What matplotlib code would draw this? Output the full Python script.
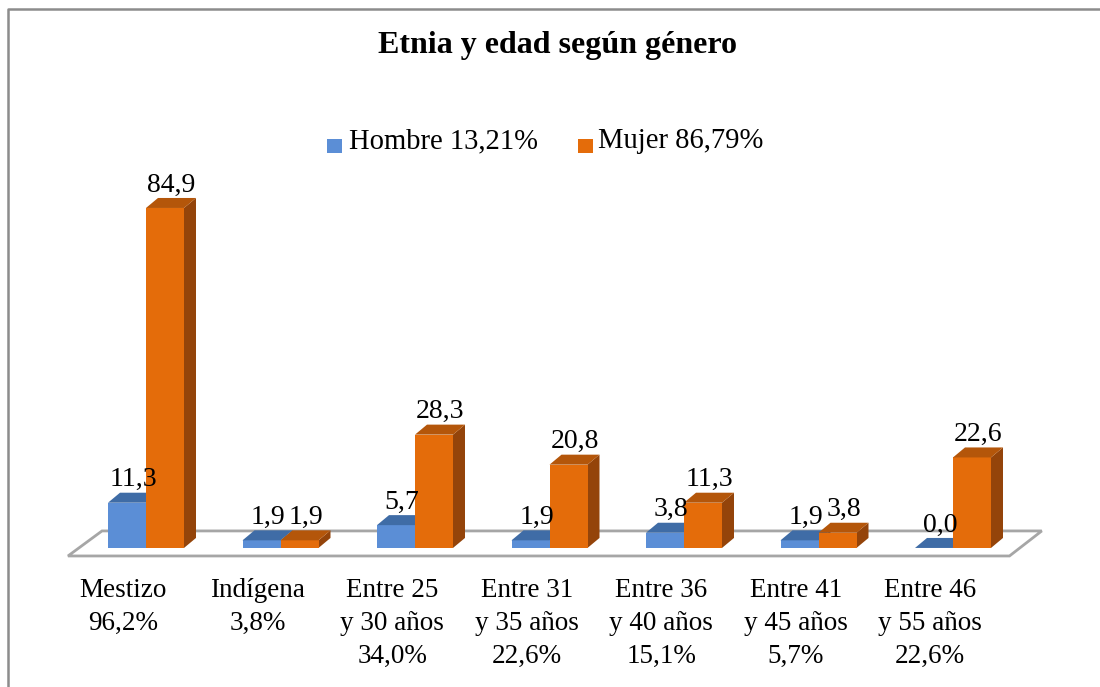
import matplotlib
matplotlib.use("Agg")
import matplotlib.pyplot as plt
from matplotlib.patches import Polygon, Rectangle
from matplotlib.lines import Line2D
import numpy as np

categories = ["Mestizo\n96,2%", "Indígena\n3,8%", "Entre 25\ny 30 años\n34,0%",
              "Entre 31\ny 35 años\n22,6%", "Entre 36\ny 40 años\n15,1%",
              "Entre 41\ny 45 años\n5,7%", "Entre 46\ny 55 años\n22,6%"]
hombre = [11.3, 1.9, 5.7, 1.9, 3.8, 1.9, 0.0]
mujer = [84.9, 1.9, 28.3, 20.8, 11.3, 3.8, 22.6]
series_names = ["Hombre 13,21%", "Mujer 86,79%"]
title = "Etnia y edad según género"

FONT = "Liberation Serif"
W, H = 1100, 687
fig = plt.figure(figsize=(W / 100, H / 100), dpi=100)
fig.patch.set_facecolor("white")

def fx(x):
    return x / W

def fy(y):
    return 1 - y / H

# axes placement (pixels)
x_left_px, x_right_px = 78.75, 1020.25
y_top_px, y_bot_px = 147.5, 588.0
ax = fig.add_axes([fx(x_left_px), fy(y_bot_px), (x_right_px - x_left_px) / W,
                   (y_bot_px - y_top_px) / H])
ax.set_xlim(-0.5, 6.5)
ax.set_ylim(-10, 100)
ax.axis("off")

px_x = (x_right_px - x_left_px) / 7.0      # pixels per category unit
px_y = (y_bot_px - y_top_px) / 110.0       # pixels per value unit
dx = 12 / px_x
dy = 10 / px_y
bw = 38 / px_x

blue_front, blue_top, blue_side = "#5B8ED6", "#3F6CA6", "#2F5687"
or_front, or_top, or_side = "#E46C0A", "#B4560A", "#94440A"

# floor
floor = Polygon([(-0.58, -2.0), (6.42, -2.0), (6.66, 4.25), (-0.327, 4.25)],
                closed=True, facecolor="white", edgecolor="#A6A6A6", lw=2.0,
                zorder=1, clip_on=False)
ax.add_patch(floor)

def bar3d(x0, v, front, top, side):
    ax.add_patch(Polygon([(x0 + bw, 0), (x0 + bw + dx, dy), (x0 + bw + dx, v + dy), (x0 + bw, v)],
                         closed=True, facecolor=side, edgecolor="none", zorder=2, clip_on=False))
    ax.add_patch(Rectangle((x0, 0), bw, v, facecolor=front, edgecolor="none", zorder=2, clip_on=False))
    ax.add_patch(Polygon([(x0, v), (x0 + bw, v), (x0 + bw + dx, v + dy), (x0 + dx, v + dy)],
                         closed=True, facecolor=top, edgecolor="none", zorder=2, clip_on=False))

def fmt(v):
    return f"{v:.1f}".replace(".", ",")

for i, (h, m) in enumerate(zip(hombre, mujer)):
    bar3d(i - bw, h, blue_front, blue_top, blue_side)
    bar3d(i, m, or_front, or_top, or_side)
    ax.text(i - bw / 2 + dx / 2, h + dy + 1.6, fmt(h), ha="center", va="baseline",
            fontsize=20, family=FONT, color="black", zorder=5)
    ax.text(i + bw / 2 + dx / 2, m + dy + 1.6, fmt(m), ha="center", va="baseline",
            fontsize=20, family=FONT, color="black", zorder=5)

for i, lab in enumerate(categories):
    ax.text(i - 0.17, -7.6, lab, ha="center", va="top", fontsize=19.5, family=FONT,
            linespacing=1.4, multialignment="center", color="black")

# title
fig.text(fx(557), fy(53), title, ha="center", va="baseline", fontsize=23,
         fontweight="bold", family=FONT, color="black")

# legend
fig.patches.append(Rectangle((fx(327), fy(153)), 15 / W, 14 / H, facecolor=blue_front,
                             edgecolor="none", transform=fig.transFigure, figure=fig))
fig.text(fx(349), fy(148), series_names[0], ha="left", va="baseline", fontsize=20.6,
         family=FONT, color="black")
fig.patches.append(Rectangle((fx(578), fy(153)), 15 / W, 14 / H, facecolor=or_front,
                             edgecolor="none", transform=fig.transFigure, figure=fig))
fig.text(fx(598), fy(148), series_names[1], ha="left", va="baseline", fontsize=20.6,
         family=FONT, color="black")

# chart border (top and left visible)
fig.lines.append(Line2D([fx(8), fx(8), fx(1100)], [fy(687), fy(8.5), fy(8.5)],
                        color="#8C8C8C", lw=1.8, transform=fig.transFigure, figure=fig))

fig.savefig("out.png", dpi=100, facecolor="white")
